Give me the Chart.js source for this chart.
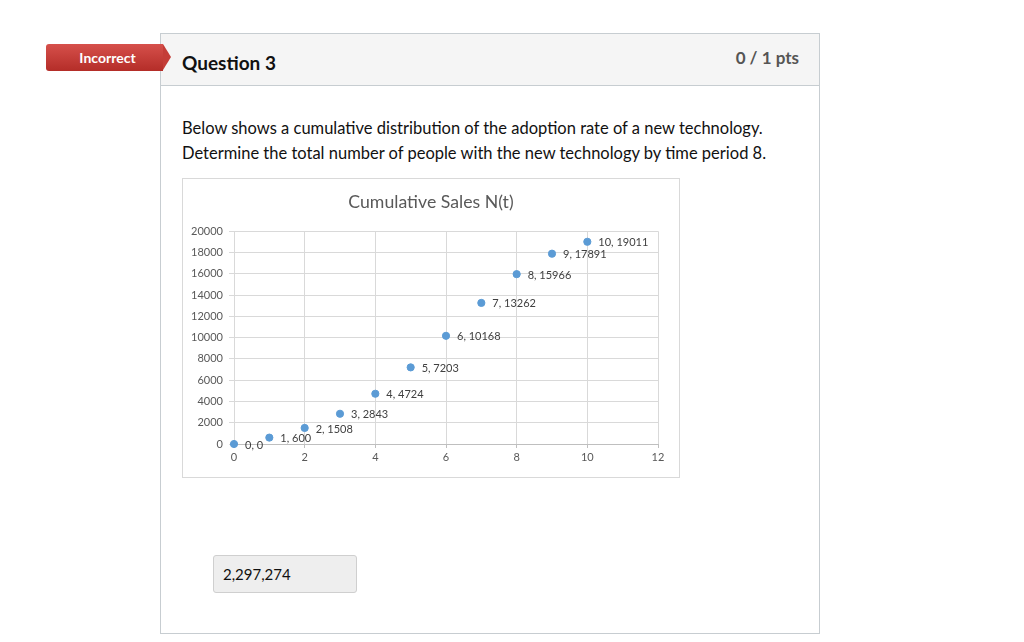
<!DOCTYPE html>
<html>
<head>
<meta charset="utf-8">
<script src="https://cdn.jsdelivr.net/npm/chart.js@4"></script>
<style>
  body { margin: 0; background: #fff; font-family: Lato, "Open Sans", sans-serif; color: #2d3b45; }
  .page { position: relative; width: 1024px; height: 642px; overflow: hidden; }
  .box { position: absolute; left: 160px; top: 33px; width: 658px; height: 599px; border: 1px solid #c7cdd1; }
  .head { position: absolute; left: 0; top: 0; right: 0; height: 51px; background: #f5f5f5; border-bottom: 1px solid #c7cdd1; }
  .qname { position: absolute; left: 21px; top: 17px; font-size: 19px; font-weight: bold; color: #111; }
  .pts { position: absolute; right: 20px; top: 13px; font-size: 17px; font-weight: bold; color: #555; }
  .badge { position: absolute; left: 46px; top: 44px; width: 117px; height: 27px; border-radius: 3px 0 0 3px;
           background: linear-gradient(#d6504b, #b42d28); color: #fff; font-size: 14px; font-weight: bold;
           line-height: 27px; text-align: center; box-sizing: border-box; padding-left: 6px; }
  .badge:after { content: ""; position: absolute; right: -8px; top: 0; border-style: solid; border-width: 13.5px 0 13.5px 8px;
                 border-color: transparent transparent transparent #c43d38; }
  .text { position: absolute; left: 182px; top: 116px; font-size: 16.5px; line-height: 25px; color: #111; }
  .chartwrap { position: absolute; left: 182px; top: 178px; width: 496px; height: 298px; border: 1px solid #d9d9d9; background: #fff; }
  .answer { position: absolute; left: 213px; top: 555px; width: 133px; height: 36px; background: #eeeeee; border: 1px solid #cfcfcf;
            border-radius: 3px; font-size: 15px; line-height: 36px; padding-left: 9px; box-sizing: content-box; color: #111; }
</style>
</head>
<body>
<div class="page">
  <div class="box"><div class="head"><div class="qname">Question 3</div><div class="pts">0 / 1 pts</div></div></div>
  <div class="badge">Incorrect</div>
  <div class="text">Below shows a cumulative distribution of the adoption rate of a new technology.<br>Determine the total number of people with the new technology by time period 8.</div>
  <div class="chartwrap"><canvas id="chart" width="496" height="298"></canvas></div>
  <div class="answer">2,297,274</div>
</div>
<script>
const periods = [0, 1, 2, 3, 4, 5, 6, 7, 8, 9, 10];
const sales = [0, 600, 1508, 2843, 4724, 7203, 10168, 13262, 15966, 17891, 19011];
const xTicks = [0, 2, 4, 6, 8, 10, 12];
const yTicks = [0, 2000, 4000, 6000, 8000, 10000, 12000, 14000, 16000, 18000, 20000];

// Excel style "x, y" labels to the right of each point
const pointLabels = {
    id: 'pointLabels',
    afterDatasetsDraw(chart) {
        const ctx = chart.ctx;
        const meta = chart.getDatasetMeta(0);
        ctx.save();
        ctx.font = '11px Lato, sans-serif';
        ctx.fillStyle = '#404040';
        ctx.textBaseline = 'middle';
        meta.data.forEach((pt, i) => {
            ctx.fillText(periods[i] + ', ' + sales[i], pt.x + 11, pt.y + 1);
        });
        ctx.restore();
    }
};

const ctx = document.getElementById('chart').getContext('2d');
new Chart(ctx, {
    type: 'scatter',
    data: {
        datasets: [{
            label: 'Cumulative Sales N(t)',
            data: periods.map((p, i) => ({ x: p, y: sales[i] })),
            backgroundColor: '#5b9bd5',
            borderColor: '#5b9bd5',
            pointRadius: 3.6,
            pointHoverRadius: 3.6,
            clip: false
        }]
    },
    options: {
        responsive: false,
        animation: false,
        layout: { padding: { left: 0, right: 0, top: 0, bottom: 9 } },
        plugins: {
            legend: { display: false },
            tooltip: { enabled: false },
            title: {
                display: true,
                text: 'Cumulative Sales N(t)',
                color: '#595959',
                font: { family: 'Lato, sans-serif', size: 17.7, weight: 'normal' },
                padding: { top: 13, bottom: 18 }
            }
        },
        scales: {
            x: {
                type: 'linear',
                min: 0,
                max: 12,
                afterBuildTicks: s => { s.ticks = xTicks.map(v => ({ value: v })); },
                afterFit: s => { s.height = 24; },
                grid: { color: '#d9d9d9', tickLength: 4, tickColor: '#bfbfbf' },
                border: { color: '#bfbfbf' },
                ticks: { color: '#595959', font: { family: 'Lato, sans-serif', size: 11 }, padding: 3 }
            },
            y: {
                min: 0,
                max: 20000,
                afterBuildTicks: s => { s.ticks = yTicks.map(v => ({ value: v })); },
                afterFit: s => { s.width = 51; },
                grid: { color: '#d9d9d9', tickLength: 5, tickColor: '#d9d9d9' },
                border: { color: '#d9d9d9' },
                ticks: { color: '#595959', font: { family: 'Lato, sans-serif', size: 11 }, padding: 6,
                         callback: v => String(v) }
            },
            // empty right-hand spacer so the plot ends where Excel's does
            spacer: {
                type: 'linear',
                position: 'right',
                afterFit: s => { s.width = 21; },
                grid: { display: false },
                border: { display: false },
                ticks: { display: false }
            }
        }
    },
    plugins: [pointLabels]
});
</script>
</body>
</html>
